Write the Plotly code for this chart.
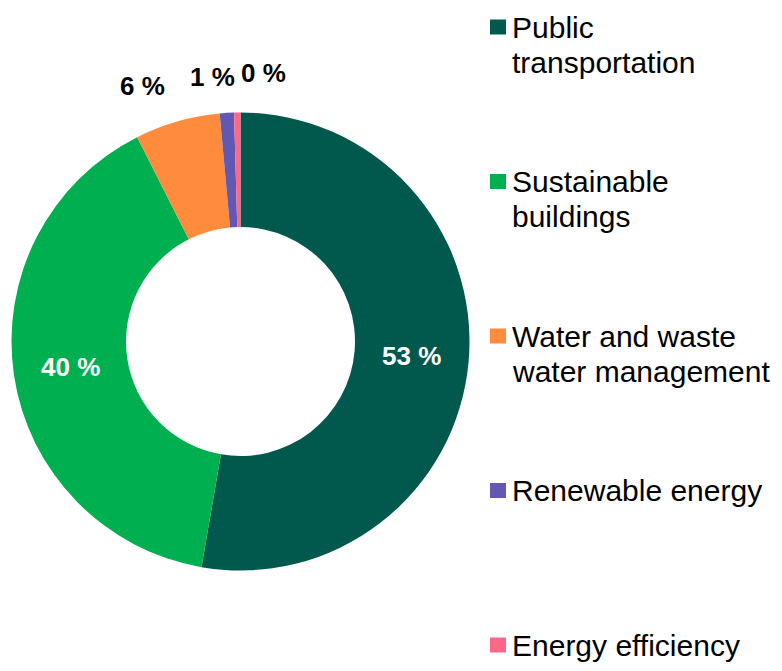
import math
import plotly.graph_objects as go

# ---- data ----
categories = ["Public transportation", "Sustainable buildings",
              "Water and waste water management", "Renewable energy",
              "Energy efficiency"]
legend_lines = [["Public", "transportation"], ["Sustainable", "buildings"],
                ["Water and waste", "water management"], ["Renewable energy"],
                ["Energy efficiency"]]
values = [52.7, 39.8, 6.0, 1.0, 0.45]
colors = ["#00594C", "#00B050", "#FF8B3D", "#6058B2", "#FF6786"]
inside = [True, True, False, False, False]

# ---- geometry (page pixels); page body has an 8px margin ----
OFF = 8
W, H = 782 - OFF, 671 - OFF
cx, cy, R = 240.5 - OFF, 341.5 - OFF, 229
FONT = "Liberation Sans, Arial, sans-serif"

total = sum(values)
labels_txt = [f"{round(v / total * 100)} %" for v in values]

fig = go.Figure(go.Pie(
    labels=categories,
    values=values,
    hole=0.5,
    sort=False,
    direction="clockwise",
    rotation=0,
    marker=dict(colors=colors, line=dict(width=0)),
    text=[t if ins else "" for t, ins in zip(labels_txt, inside)],
    textinfo="text",
    textposition="inside",
    insidetextorientation="horizontal",
    textfont=dict(family=FONT, size=26, color="white", weight="bold"),
    domain=dict(x=[(cx - R) / W, (cx + R) / W],
                y=[(H - cy - R) / H, (H - cy + R) / H]),
    showlegend=False,
    hoverinfo="label+percent",
))

annotations = []
shapes = []

# outside labels for small slices, placed from slice mid-angle
anchors = {2: ("right", 0, 0), 3: ("right", 12, -1), 4: ("left", 2, 3)}
cum = 0
for i, v in enumerate(values):
    mid = (cum + v / 2) / total
    cum += v
    if inside[i]:
        continue
    ang = mid * 2 * math.pi
    r = 1.16 * R
    px = cx + r * math.sin(ang)
    py = cy - r * math.cos(ang)
    xa, xs, ys = anchors[i]
    annotations.append(dict(
        x=px / W, y=1 - py / H, xref="paper", yref="paper",
        text=labels_txt[i], showarrow=False, xanchor=xa, yanchor="middle",
        xshift=xs, yshift=ys,
        font=dict(family=FONT, size=26, color="black", weight="bold")))

# custom legend
leg_x_marker = 490 - OFF
leg_x_text = 510 - OFF
first_y = 27 - OFF
step = 154.5
line_h = 35
for i, lines in enumerate(legend_lines):
    yc = first_y + i * step
    shapes.append(dict(type="rect", xref="paper", yref="paper",
                       x0=leg_x_marker / W, x1=(leg_x_marker + 16) / W,
                       y0=1 - (yc + 7.5) / H, y1=1 - (yc - 7.5) / H,
                       fillcolor=colors[i], line=dict(width=0)))
    for k, ln in enumerate(lines):
        annotations.append(dict(
            x=leg_x_text / W, y=1 - (yc + k * line_h) / H,
            xref="paper", yref="paper", text=ln, showarrow=False,
            xanchor="left", yanchor="middle",
            font=dict(family=FONT, size=30, color="black")))

fig.update_layout(
    width=W, height=H,
    margin=dict(l=0, r=0, t=0, b=0),
    paper_bgcolor="white", plot_bgcolor="white",
    annotations=annotations, shapes=shapes,
)

fig.write_html("out.html")
